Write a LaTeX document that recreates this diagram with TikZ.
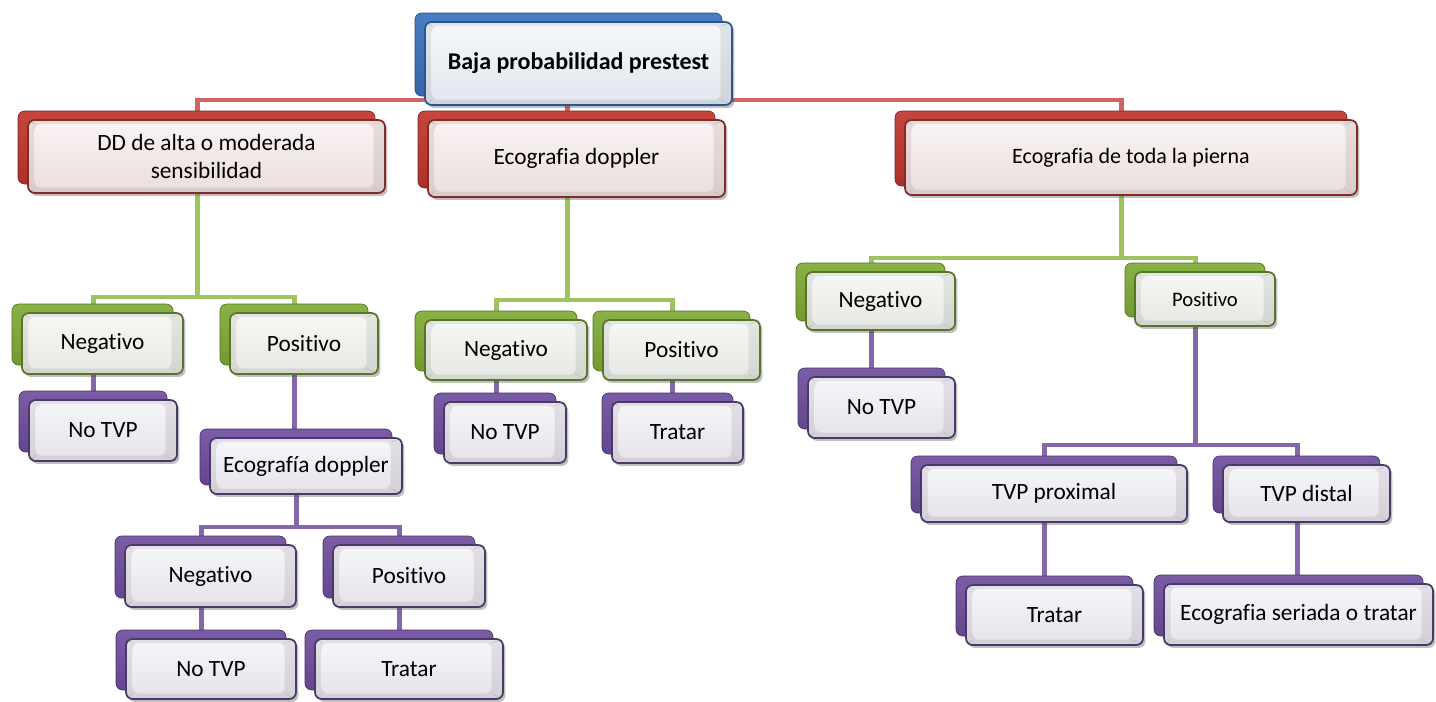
\documentclass[tikz,border=0pt]{standalone}
\usepackage{fontspec}
\setmainfont{Carlito}[Ligatures=NoCommon]
\usetikzlibrary{shadows,backgrounds}
\definecolor{rback}{HTML}{C0362F}
\definecolor{rbord}{HTML}{842B28}
\definecolor{rfill}{HTML}{F2E5E5}
\definecolor{rline}{HTML}{D46464}
\definecolor{bback}{HTML}{3A72BC}
\definecolor{bbord}{HTML}{2B5690}
\definecolor{bfill}{HTML}{E9EEF5}
\definecolor{gback}{HTML}{7FAB35}
\definecolor{gbord}{HTML}{56752A}
\definecolor{gfill}{HTML}{EDEFE9}
\definecolor{gline}{HTML}{9DC45F}
\definecolor{pback}{HTML}{6F4E9E}
\definecolor{pbord}{HTML}{4B3868}
\definecolor{pfill}{HTML}{ECEAF0}
\definecolor{pline}{HTML}{8466AA}
\tikzset{
  nd/.style n args={3}{rounded corners=5pt, line width=1.3pt, draw=#1,
    top color=#2!96!black, bottom color=#2!89!black,
    inner sep=0pt, font=\fontsize{17.5}{21}\selectfont,
    path picture={
      \shade[top color=#2!45!white, bottom color=#2!97!black]
        ([shift={(5pt,4pt)}]path picture bounding box.south west) rectangle
        ([shift={(-8.5pt,-3pt)}]path picture bounding box.north east);
      \draw[#2!80!black, line width=0.4pt]
        (path picture bounding box.south west) -- ++(5pt,4pt)
        (path picture bounding box.north west) -- ++(5pt,-3pt)
        (path picture bounding box.north east) -- ++(-8.5pt,-3pt)
        (path picture bounding box.south east) -- ++(-8.5pt,4pt);},
    drop shadow={shadow xshift=1.8pt, shadow yshift=-2.2pt, opacity=0.35, fill=black!70},
    general shadow={top color=#3!92!white, bottom color=#3!90!black, draw=#3!65!black,
      line width=0.5pt, shadow xshift=-7.5pt, shadow yshift=6.75pt}},
  rootbox/.style={nd={bbord}{bfill}{bback}, font=\fontsize{18}{21}\selectfont\bfseries},
  rbox/.style={nd={rbord}{rfill}{rback}},
  gbox/.style={nd={gbord}{gfill}{gback}},
  pbox/.style={nd={pbord}{pfill}{pback}},
  conn/.style={line width=3.5pt, draw=#1},
}
\newcommand\mybox[7]{\node[#1, minimum width={(#5-#3)*0.75pt}, minimum height={(#6-#4)*0.75pt}]
  (#2) at ({(#3+#5)/2},{(#4+#6)/2}) {#7};}
\newcommand\busto[4]{%
  \foreach \ch in {#4}{%
    \path ([xshift=-7pt]#2.center) coordinate (pp) ([xshift=-7pt]\ch.center) coordinate (cc);
    \draw[conn=#1] (pp) -- (pp |- 0,#3) -| (cc);}}
\newcommand\vto[3]{%
  \path ([xshift=-7pt]#2.center) coordinate (pp) ([xshift=-7pt]#3.center) coordinate (cc);
  \draw[conn=#1] (pp) -- (pp |- cc);}
\begin{document}
\begin{tikzpicture}[x=0.75pt, y=-0.75pt]
\begin{scope}[on background layer]
  \path[use as bounding box, fill=white] (0,0) rectangle (1436,701);
\end{scope}
% level 0
\mybox{rootbox}{root}{425}{22}{732}{105}{Baja probabilidad prestest}
% level 1
\mybox{rbox, align=center}{dd}{28}{120}{385}{193}{DD de alta o moderada\\ sensibilidad}
\mybox{rbox}{dop}{428}{120}{725}{197}{Ecografia doppler}
\mybox{rbox, font=\fontsize{16.5}{20}\selectfont}{pie}{905}{120}{1357}{195}{Ecografia de toda la pierna}
% level 2
\mybox{gbox}{neg1}{22}{313}{183}{374}{Negativo}
\mybox{gbox}{pos1}{230}{313}{378}{374}{Positivo}
\mybox{gbox}{neg2}{425}{320}{587}{380}{Negativo}
\mybox{gbox}{pos2}{603}{320}{760}{380}{Positivo}
\mybox{gbox}{neg3}{806}{272}{955}{330}{Negativo}
\mybox{gbox, font=\fontsize{15.5}{19}\selectfont}{pos3}{1135}{272}{1275}{326}{Positivo}
% level 3
\mybox{pbox}{notvp1}{29}{400}{177}{461}{No TVP}
\mybox{pbox}{eco1}{210}{438}{402}{494}{Ecografía doppler}
\mybox{pbox}{notvp2}{444}{402}{566}{463}{No TVP}
\mybox{pbox}{trat2}{612}{402}{743}{463}{Tratar}
\mybox{pbox}{notvp3}{808}{377}{955}{438}{No TVP}
\mybox{pbox}{prox}{921}{465}{1187}{522}{TVP proximal}
\mybox{pbox}{dist}{1223}{465}{1390}{522}{TVP distal}
% level 4
\mybox{pbox}{neg4}{125}{545}{296}{607}{Negativo}
\mybox{pbox}{pos4}{333}{545}{485}{607}{Positivo}
\mybox{pbox}{trat3}{966}{585}{1143}{645}{Tratar}
\mybox{pbox}{ser}{1164}{584}{1433}{645}{Ecografia seriada o tratar}
% level 5
\mybox{pbox}{notvp4}{126}{639}{296}{699}{No TVP}
\mybox{pbox}{trat4}{315}{639}{503}{699}{Tratar}
% connectors
\begin{scope}[on background layer]
  \busto{rline}{root}{100}{dd,dop,pie}
  \busto{gline}{dd}{297}{neg1,pos1}
  \busto{gline}{dop}{300}{neg2,pos2}
  \busto{gline}{pie}{258}{neg3,pos3}
  \vto{pline}{neg1}{notvp1}
  \vto{pline}{pos1}{eco1}
  \busto{pline}{eco1}{527}{neg4,pos4}
  \vto{pline}{neg4}{notvp4}
  \vto{pline}{pos4}{trat4}
  \vto{pline}{neg2}{notvp2}
  \vto{pline}{pos2}{trat2}
  \vto{pline}{neg3}{notvp3}
  \busto{pline}{pos3}{445}{prox,dist}
  \vto{pline}{prox}{trat3}
  \vto{pline}{dist}{ser}
\end{scope}
\end{tikzpicture}
\end{document}
